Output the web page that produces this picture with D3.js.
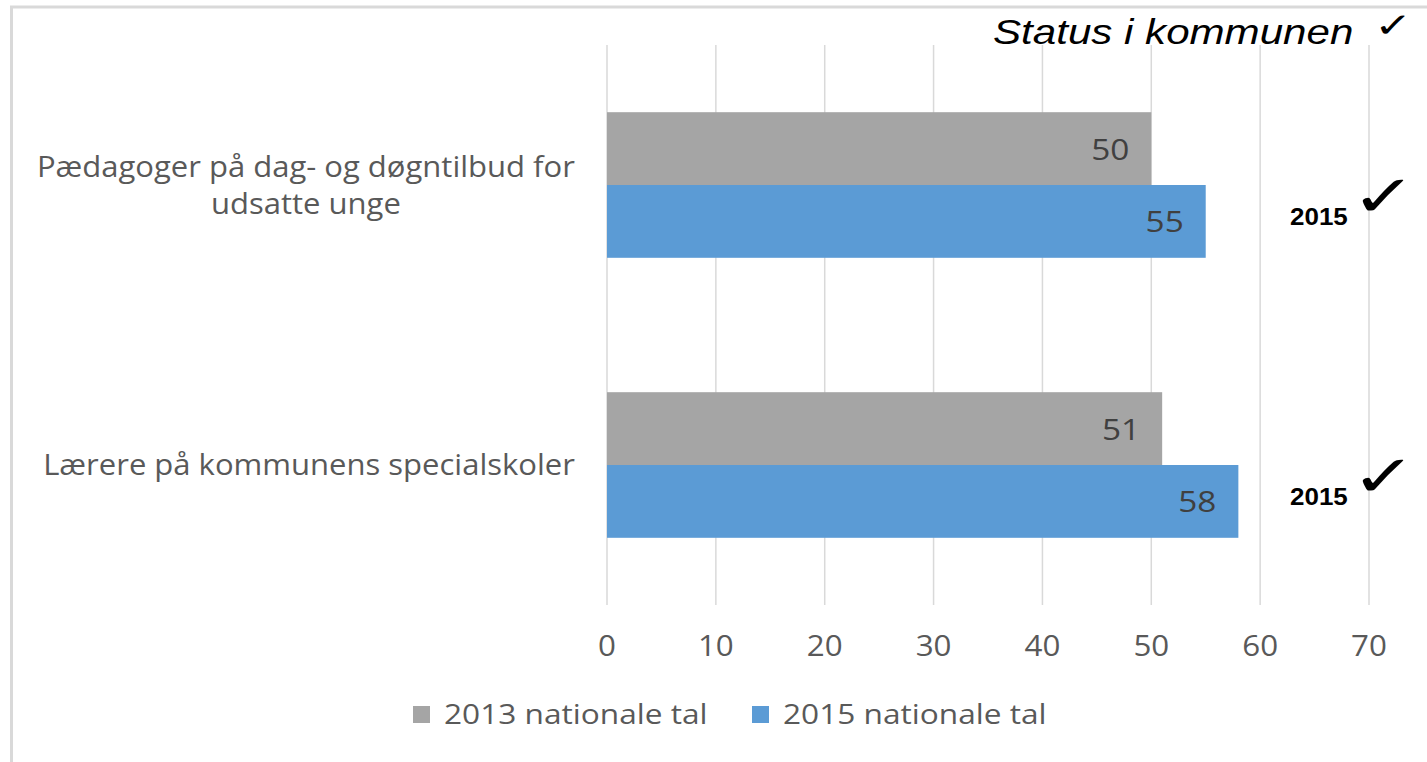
<!DOCTYPE html>
<html>
<head>
<meta charset="utf-8">
<script src="https://cdn.jsdelivr.net/npm/d3@7"></script>
<style>
  body { margin: 0; background: #fff; }
  svg text { font-family: "Open Sans", sans-serif; }
</style>
</head>
<body>
<svg id="chart" width="1427" height="762"></svg>
<script>
const categories = [
  ['Pædagoger på dag- og døgntilbud for', 'udsatte unge'],
  ['Lærere på kommunens specialskoler']
];
const series = ['2013 nationale tal', '2015 nationale tal'];
const values2013 = [50, 51];
const values2015 = [55, 58];
const ticks = [0, 10, 20, 30, 40, 50, 60, 70];
const statusLabels = ['2015', '2015'];

const colors = ['#a5a5a5', '#5b9bd5'];
const textColor = '#595959';

const svg = d3.select('#chart');
const width = 1427, height = 762;

// the source picture is stretched sideways, so text gets a horizontal scale
const place = (x, y, k) => `translate(${x},${y}) scale(${k},1)`;

// frame
svg.append('line').attr('x1', 10).attr('x2', width).attr('y1', 7).attr('y2', 7)
  .attr('stroke', '#d9d9d9').attr('stroke-width', 3);
svg.append('line').attr('x1', 11.5).attr('x2', 11.5).attr('y1', 6).attr('y2', height)
  .attr('stroke', '#d9d9d9').attr('stroke-width', 3);

const plot = { left: 607, right: 1369, top: 45, bottom: 605 };

const x = d3.scaleLinear().domain([0, 70]).range([plot.left, plot.right]);
const y = d3.scaleBand().domain(d3.range(categories.length))
  .range([plot.top, plot.bottom]).paddingInner(0.48).paddingOuter(0.24);
const ySub = d3.scaleBand().domain([0, 1]).range([0, y.bandwidth()]);

// gridlines
svg.append('g').selectAll('line').data(ticks).join('line')
  .attr('x1', d => x(d)).attr('x2', d => x(d))
  .attr('y1', plot.top).attr('y2', plot.bottom)
  .attr('stroke', '#d9d9d9').attr('stroke-width', 1.5);

// x tick labels
svg.append('g').selectAll('text').data(ticks).join('text')
  .attr('transform', d => place(x(d), 656, 1.08))
  .attr('text-anchor', 'middle')
  .attr('fill', textColor).style('font-size', '29px')
  .text(d => d);

// bars
const rows = categories.map((c, i) => ({ i, vals: [values2013[i], values2015[i]] }));
const groups = svg.append('g').selectAll('g').data(rows).join('g')
  .attr('transform', d => `translate(0,${y(d.i)})`);

groups.selectAll('rect').data(d => d.vals.map((v, s) => ({ v, s }))).join('rect')
  .attr('x', x(0)).attr('y', d => ySub(d.s))
  .attr('width', d => x(d.v) - x(0)).attr('height', ySub.bandwidth())
  .attr('fill', d => colors[d.s]);

groups.selectAll('text').data(d => d.vals.map((v, s) => ({ v, s }))).join('text')
  .attr('transform', d => place(x(d.v) - 22, ySub(d.s) + ySub.bandwidth() / 2 + 11, 1.15))
  .attr('text-anchor', 'end')
  .attr('fill', '#404040').style('font-size', '29px')
  .text(d => d.v);

// category labels
const labelRight = 575;
const labelScale = 1.07;
categories.forEach((lines, i) => {
  const cy = y(i) + y.bandwidth() / 2;
  const lh = 37;
  const g = svg.append('g');
  const t = g.selectAll('text').data(lines).join('text')
    .attr('text-anchor', 'middle')
    .attr('fill', textColor).style('font-size', '29px')
    .text(d => d);
  const w = d3.max(t.nodes(), n => n.getComputedTextLength()) * labelScale;
  t.attr('transform', (d, k) => place(labelRight - w / 2,
    cy + (k - (lines.length - 1) / 2) * lh + 10, labelScale));
});

// legend
const legendX = [413, 752];
const legend = svg.append('g').selectAll('g').data(series).join('g')
  .attr('transform', (d, i) => `translate(${legendX[i]},706)`);
legend.append('rect').attr('width', 17).attr('height', 17).attr('fill', (d, i) => colors[i]);
legend.append('text').attr('transform', place(31, 18, 1.13))
  .attr('fill', textColor).style('font-size', '28px').text(d => d);

// status annotation
svg.append('text').attr('transform', place(993, 44, 1.17))
  .style('font-family', '"Liberation Sans", Arial, sans-serif')
  .style('font-style', 'italic').style('font-size', '36px')
  .attr('fill', '#000').text('Status i kommunen');
svg.append('text').attr('transform', place(1374, 37, 1.35))
  .style('font-family', '"DejaVu Sans", sans-serif')
  .style('font-size', '34px').attr('fill', '#000').text('✓');

statusLabels.forEach((s, i) => {
  const cy = y(i) + ySub(1) + ySub.bandwidth() / 2;
  svg.append('text').attr('transform', place(1290, cy + 4, 1.13))
    .style('font-family', '"Liberation Sans", Arial, sans-serif')
    .style('font-weight', 'bold').style('font-size', '23px')
    .attr('fill', '#000').text(s);
  svg.append('text').attr('transform', place(1351, cy - 5, 1.35))
    .style('font-family', '"DejaVu Sans", sans-serif')
    .style('font-size', '58px')
    .attr('fill', '#000').text('✓');
});
</script>
</body>
</html>
